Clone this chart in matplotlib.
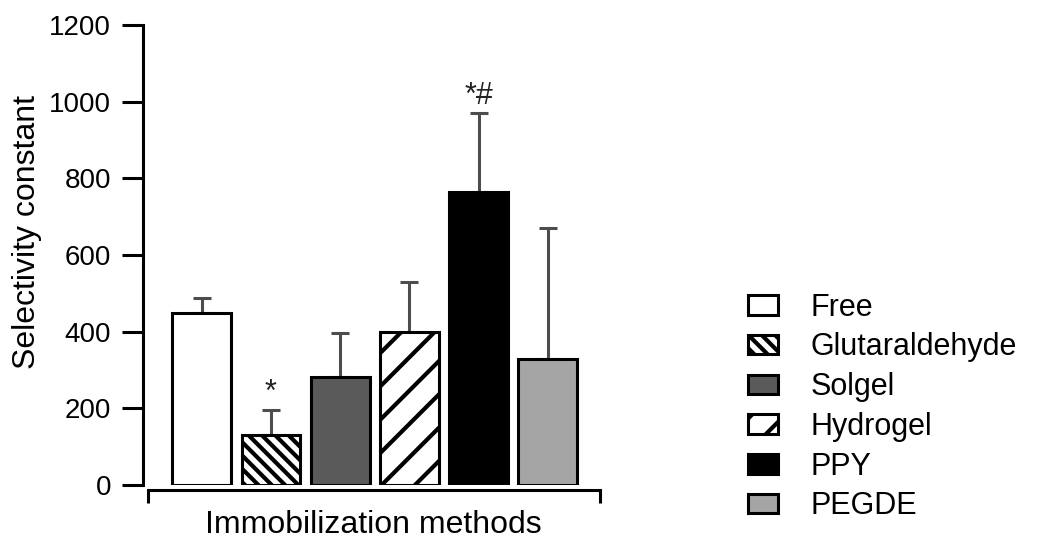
import matplotlib
matplotlib.use("Agg")
import matplotlib.pyplot as plt
from matplotlib.patches import Patch

# data
methods = ["Free", "Glutaraldehyde", "Solgel", "Hydrogel", "PPY", "PEGDE"]
means = [448, 130, 283, 400, 764, 330]
errors = [39, 66, 113, 130, 207, 340]
marks = ["", "*", "", "", "*#", ""]

colors = ["white", "white", "#5a5a5a", "white", "black", "#a5a5a5"]
hatches = [None, "\\\\\\\\\\", None, "//", None, None]

plt.rcParams["font.family"] = ["Liberation Sans", "DejaVu Sans"]
plt.rcParams["hatch.linewidth"] = 1.5

fig = plt.figure(figsize=(5.215, 2.69), dpi=200)
ax = fig.add_axes([0.1371, 0.0985, 0.4382, 0.855])

x = list(range(len(methods)))
bars = ax.bar(x, means, width=0.85, color=colors, edgecolor="black",
              linewidth=1.1, zorder=2)
for b, h in zip(bars, hatches):
    if h:
        b.set_hatch(h)

ax.errorbar(x, means, yerr=[[0] * len(errors), errors], fmt="none",
            ecolor="#4d4d4d", elinewidth=1.1, capsize=3.2, capthick=1.1,
            zorder=1)

for xi, m, e, t in zip(x, means, errors, marks):
    if t:
        ax.text(xi, m + e + 5, t, ha="center", va="bottom", fontsize=11,
                color="#222222")

ax.set_ylim(0, 1200)
ax.set_xlim(-0.85, 5.756)
ax.set_yticks(range(0, 1201, 200))
ax.tick_params(axis="y", labelsize=10, length=7.5, width=1.1, pad=4)
ax.set_xticks([-0.775, 5.756])
ax.set_xticklabels([])
ax.tick_params(axis="x", length=4.7, width=1.1)

ax.spines["top"].set_visible(False)
ax.spines["right"].set_visible(False)
ax.spines["left"].set_linewidth(1.1)
ax.spines["bottom"].set_linewidth(1.1)
ax.spines["bottom"].set_position(("outward", 1.8))
ax.spines["bottom"].set_bounds(-0.775, 5.756)

ax.set_ylabel("Selectivity constant", fontsize=11.5)
ax.yaxis.set_label_coords(-0.221, 0.55)
ax.set_xlabel("Immobilization methods", fontsize=11.5)
ax.xaxis.set_label_coords(0.505, -0.054)

handles = []
for c, h in zip(colors, hatches):
    p = Patch(facecolor=c, edgecolor="black", linewidth=1.1, hatch=h)
    handles.append(p)
fig.legend(handles, methods, loc="center left", bbox_to_anchor=(0.717, 0.2434),
           frameon=False, fontsize=11, handlelength=1.0, handleheight=0.6,
           handletextpad=1.05, labelspacing=0.32, borderpad=0, borderaxespad=0)

fig.savefig("out.png", dpi=200)
